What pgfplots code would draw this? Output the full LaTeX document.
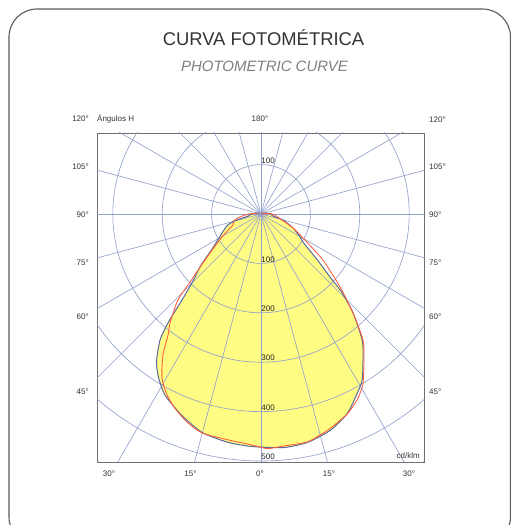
\documentclass[border=0pt]{standalone}
\usepackage{fontspec}
\setmainfont{Liberation Sans}
\usepackage{pgfplots}
\usepackage{pgfplotstable}
\pgfplotsset{compat=1.18}
\definecolor{gridc}{HTML}{93A1CC}
\definecolor{boxc}{HTML}{707070}
\definecolor{fillc}{HTML}{FFFC84}
\definecolor{bluec}{HTML}{5A6A9C}
\definecolor{redc}{HTML}{FF5A3A}
\definecolor{txt}{HTML}{333333}
% C0-C180 plane: angle (deg, math convention), intensity (cd/klm)
\pgfplotstableread{
theta r
-200 4
-190 10
-180 20
-172 24
-166 50
-162 70
-154 88
-149 102
-144 124
-139.5 160
-135 198
-132.6 236
-130.5 290
-128.7 327
-125.2 367
-122 391
-117.9 415
-111.5 438
-105.1 458
-98.2 467
-92.2 471
-84.6 475
-78.6 472
-72.3 460
-66.6 440
-61.8 412
-58.7 394
-55.1 361
-51.3 328
-47.1 274
-44 226
-42.4 189
-39.4 150
-33.7 102
-30.5 92
-23.6 71
-15.3 46
-10 25
0 20
10 10
20 4
90 0
}\planeA
% C90-C270 plane
\pgfplotstableread{
theta r
-190 8
-180 25
-172 43
-166 57
-158.5 61
-149.5 92
-140.6 147
-136.2 199
-134 242
-129.9 287
-127.5 309
-124.8 348
-121.1 388
-117.4 413
-113.9 430
-109.6 447
-105.1 459
-98.3 462
-92.2 468
-88.5 475
-84.6 472
-78.6 471
-75 463
-72.8 458
-70 450
-66.4 440
-62.7 424
-61 414
-58.9 400
-54.8 362
-51 328
-47.1 274
-42.7 218
-36.6 156
-29.7 98
-23.6 71
-14 40
-5 28
0 22
10 8
90 0
}\planeB
\begin{document}
\begin{tikzpicture}[x=1pt,y=1pt]
\useasboundingbox (0,0) rectangle (511,525);
\begin{scope}
\clip (0,0) rectangle (511,525);
\draw[color=black!65, line width=1.1pt, rounded corners=28pt] (9,-20) rectangle (510.5,516);
\end{scope}
\node[anchor=base, font=\fontsize{18.4}{20}\selectfont, text=txt, inner sep=0pt] at (263.5,479.5) {CURVA FOTOMÉTRICA};
\node[anchor=base, font=\fontsize{15}{17}\selectfont\itshape, text=black!50, inner sep=0pt] at (264.5,453) {PHOTOMETRIC CURVE};

\begin{axis}[at={(97pt,63pt)}, anchor=south west, scale only axis,
  width=327pt, height=329pt,
  xmin=-332, xmax=330, ymin=-502, ymax=164,
  axis line style={boxc, line width=0.9pt}, ticks=none, clip=true]
  \addplot[fill=fillc, draw=none, data cs=polar, smooth, tension=0.4] table[x=theta, y=r] {\planeA};
  \pgfplotsinvokeforeach{100,200,300,400,500,600,700}{
    \draw[gridc, line width=0.65pt] (axis cs:0,0) circle[radius=#1];
  }
  \pgfplotsinvokeforeach{0,15,...,345}{
    \draw[gridc, line width=0.65pt] (axis cs:0,0) -- (axis cs:{800*cos(#1)},{800*sin(#1)});
  }
  \addplot[bluec, line width=1pt, data cs=polar, smooth, tension=0.4] table[x=theta, y=r] {\planeA};
  \addplot[redc, line width=0.85pt, data cs=polar, smooth, tension=0.4] table[x=theta, y=r] {\planeB};
  \pgfplotsinvokeforeach{100,200,300,400,500}{
    \node[anchor=south west, inner xsep=0.3pt, inner ysep=1pt, font=\fontsize{8}{9}\selectfont, text=black!85] at (axis cs:0,-#1) {#1};
  }
  \node[anchor=south west, inner xsep=0.3pt, inner ysep=1pt, font=\fontsize{8}{9}\selectfont, text=black!85] at (axis cs:0,100) {100};
\end{axis}

\begin{scope}[font=\fontsize{8}{9}\selectfont, text=txt, inner sep=0pt]
\node[anchor=base east] at (420,66) {cd/klm};
\node[anchor=west] at (97,406) {Ángulos H};
\node at (260,406) {180°};
\node[anchor=east] at (89,406) {120°};
\node[anchor=east] at (89,358) {105°};
\node[anchor=east] at (89,310.5) {90°};
\node[anchor=east] at (89,262) {75°};
\node[anchor=east] at (89,208) {60°};
\node[anchor=east] at (89,133) {45°};
\node[anchor=west] at (429,405) {120°};
\node[anchor=west] at (429,358) {105°};
\node[anchor=west] at (429,310.5) {90°};
\node[anchor=west] at (429,262) {75°};
\node[anchor=west] at (429,208) {60°};
\node[anchor=west] at (429,133) {45°};
\node at (109,51) {30°};
\node at (190.5,51) {15°};
\node at (260,51) {0°};
\node at (329,51) {15°};
\node at (409,51) {30°};
\end{scope}
\end{tikzpicture}
\end{document}
